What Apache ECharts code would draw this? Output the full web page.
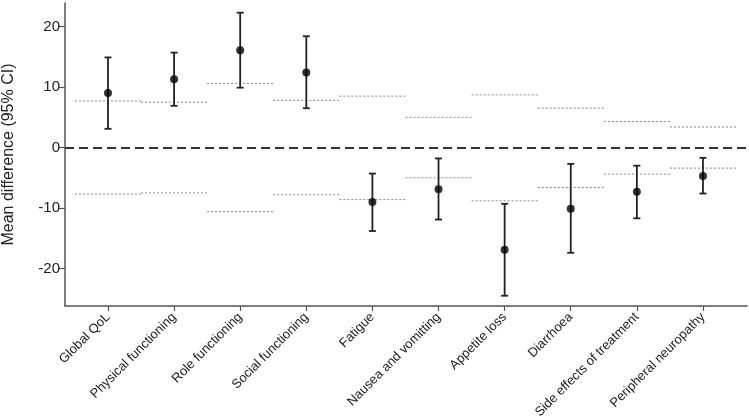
<!DOCTYPE html>
<html>
<head>
<meta charset="utf-8">
<script src="https://cdn.jsdelivr.net/npm/echarts@6/dist/echarts.min.js"></script>
<style>html,body{margin:0;padding:0;background:#fff;}#c{width:749px;height:420px;}</style>
</head>
<body>
<div id="c"></div>
<script>
var categories = ['Global QoL','Physical functioning','Role functioning','Social functioning','Fatigue','Nausea and vomitting','Appetite loss','Diarrhoea','Side effects of treatment','Peripheral neuropathy'];
var meanDiff = [9.0, 11.3, 16.1, 12.4, -9.0, -6.9, -16.9, -10.1, -7.3, -4.7];
var ciLower = [3.1, 6.9, 9.9, 6.5, -13.8, -11.9, -24.5, -17.4, -11.7, -7.6];
var ciUpper = [14.9, 15.7, 22.3, 18.4, -4.3, -1.8, -9.3, -2.7, -3.0, -1.7];
var refUpper = [7.7, 7.5, 10.6, 7.8, 8.5, 5.0, 8.7, 6.5, 4.3, 3.4];
var refLower = [-7.7, -7.5, -10.6, -7.8, -8.6, -5.0, -8.8, -6.6, -4.4, -3.4];
var yTicks = [-20, -10, 0, 10, 20];
var xPositions = categories.map(function (c, i) { return i + 1; });

var font = 'Liberation Sans, Arial, sans-serif';
var chart = echarts.init(document.getElementById('c'));

var errData = xPositions.map(function (x, i) { return [x, ciLower[i], ciUpper[i]]; });
var refData = [];
xPositions.forEach(function (x, i) { refData.push([x, refUpper[i]]); refData.push([x, refLower[i]]); });
var pointData = xPositions.map(function (x, i) { return [x, meanDiff[i]]; });

chart.setOption({
  animation: false,
  backgroundColor: '#fff',
  grid: { left: 65, right: 2, top: 3, bottom: 114, containLabel: false, outerBoundsMode: 'none' },
  xAxis: {
    type: 'value', min: 0.35, max: 10.666,
    splitLine: { show: false },
    axisLine: { show: true, onZero: false, lineStyle: { color: '#555', width: 1.5 } },
    axisTick: { show: true, length: 5, customValues: xPositions, lineStyle: { color: '#555', width: 1.2 } },
    axisLabel: {
      customValues: xPositions, rotate: 45, margin: 9, fontSize: 13, fontFamily: font, color: '#222',
      formatter: function (v) { return categories[Math.round(v) - 1] || ''; }
    }
  },
  yAxis: {
    type: 'value', min: -26.2, max: 23.9,
    name: 'Mean difference (95% CI)', nameLocation: 'middle', nameGap: 48, nameRotate: 90,
    nameTextStyle: { fontSize: 16, fontFamily: font, color: '#222' },
    splitLine: { show: false },
    axisLine: { show: true, lineStyle: { color: '#555', width: 1.5 } },
    axisTick: { show: true, length: 6, customValues: yTicks, lineStyle: { color: '#555', width: 1.2 } },
    axisLabel: { customValues: yTicks, fontSize: 15, fontFamily: font, color: '#222', margin: 5 }
  },
  series: [
    {
      type: 'custom', name: 'ref', data: refData, z: 2,
      renderItem: function (params, api) {
        var x = api.value(0), v = api.value(1);
        var p1 = api.coord([x - 0.5, v]), p2 = api.coord([x + 0.5, v]);
        return { type: 'line', shape: { x1: p1[0], y1: p1[1], x2: p2[0], y2: p2[1] },
          style: { stroke: '#888', lineWidth: 1, lineDash: [2, 2] } };
      },
      markLine: {
        silent: true, symbol: 'none', label: { show: false },
        lineStyle: { color: '#333', width: 2, type: [9, 5] },
        data: [{ yAxis: 0 }]
      }
    },
    {
      type: 'custom', name: 'ci', data: errData, z: 3,
      renderItem: function (params, api) {
        var x = api.value(0);
        var lo = api.coord([x, api.value(1)]), hi = api.coord([x, api.value(2)]);
        var st = { stroke: '#222', lineWidth: 1.8 };
        return { type: 'group', children: [
          { type: 'line', shape: { x1: lo[0], y1: lo[1], x2: hi[0], y2: hi[1] }, style: st },
          { type: 'line', shape: { x1: lo[0] - 3.5, y1: lo[1], x2: lo[0] + 3.5, y2: lo[1] }, style: st },
          { type: 'line', shape: { x1: hi[0] - 3.5, y1: hi[1], x2: hi[0] + 3.5, y2: hi[1] }, style: st }
        ] };
      }
    },
    {
      type: 'scatter', name: 'mean', data: pointData, z: 4,
      symbol: 'circle', symbolSize: 8, itemStyle: { color: '#000' }
    }
  ]
});
</script>
</body>
</html>
